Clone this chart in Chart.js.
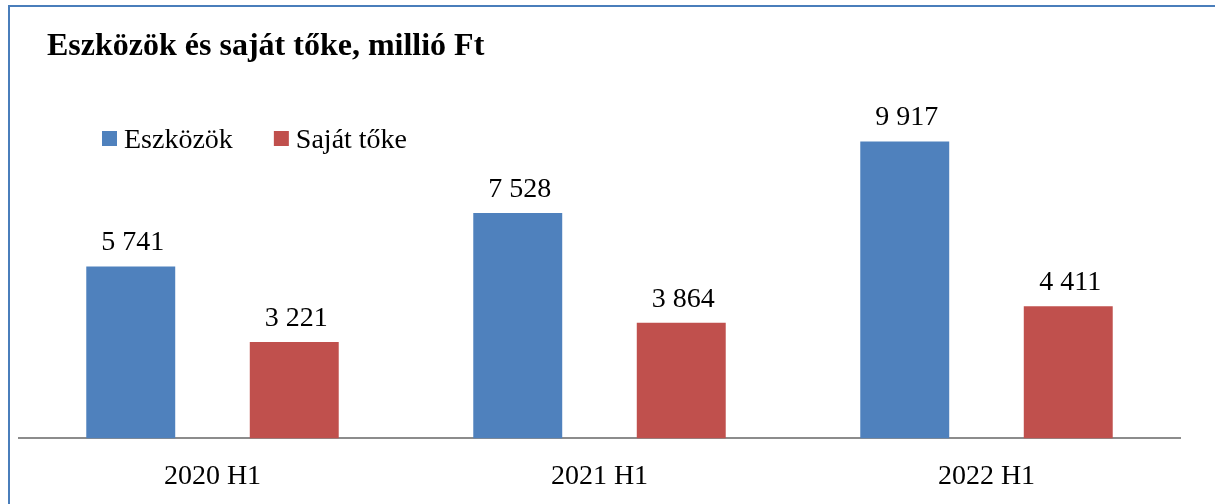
<!DOCTYPE html>
<html lang="hu">
<head>
<meta charset="utf-8">
<title>Eszközök és saját tőke</title>
<script src="https://cdn.jsdelivr.net/npm/chart.js@4/dist/chart.umd.min.js"></script>
<style>
    html, body { margin: 0; padding: 0; background: #fff; }
    #wrap { position: relative; width: 1215px; height: 504px; overflow: hidden; }
    #myChart { position: absolute; left: 0; top: 0; }
    #frame {
        position: absolute; left: 8px; top: 5px; right: -10px; bottom: -10px;
        border-left: 2px solid #4a7ebb; border-top: 2px solid #4a7ebb;
        pointer-events: none;
    }
</style>
</head>
<body>
<div id="wrap">
    <canvas id="myChart" width="1215" height="529"></canvas>
    <div id="frame"></div>
</div>
<script>
const tituloGrafico = "Eszközök és saját tőke, millió Ft";
const periodos = ["2020 H1", "2021 H1", "2022 H1"];
const eszkozok = [5741, 7528, 9917];
const sajatToke = [3221, 3864, 4411];

const serif = "'Liberation Serif', 'Times New Roman', serif";

function formatNum(v) {
    return String(v).replace(/\B(?=(\d{3})+(?!\d))/g, " ");
}

// titulo, leyenda y etiquetas de valores dibujados a mano
const extras = {
    id: "extras",
    afterDatasetsDraw(chart) {
        const { ctx } = chart;
        ctx.save();
        ctx.fillStyle = "#000";

        ctx.font = `bold 32px ${serif}`;
        ctx.textAlign = "left";
        ctx.textBaseline = "alphabetic";
        ctx.fillText(tituloGrafico, 47, 55);

        // leyenda
        ctx.font = `28px ${serif}`;
        let x = 102;
        chart.data.datasets.forEach((ds) => {
            ctx.fillStyle = ds.backgroundColor;
            ctx.fillRect(x, 131, 15, 15);
            ctx.fillStyle = "#000";
            ctx.fillText(ds.label, x + 22, 148);
            x += 22 + ctx.measureText(ds.label).width + 41;
        });

        // valores sobre las barras
        ctx.textAlign = "center";
        chart.data.datasets.forEach((ds, i) => {
            const meta = chart.getDatasetMeta(i);
            meta.data.forEach((bar, j) => {
                ctx.fillText(formatNum(ds.data[j]), bar.x + 2, bar.y - 16);
            });
        });
        ctx.restore();
    }
};

const config = {
    type: "bar",
    data: {
        labels: periodos,
        datasets: [
            {
                label: "Eszközök",
                data: eszkozok,
                backgroundColor: "#4f81bd",
                categoryPercentage: 0.845,
                barPercentage: 0.544,
            },
            {
                label: "Saját tőke",
                data: sajatToke,
                backgroundColor: "#c0504d",
                categoryPercentage: 0.845,
                barPercentage: 0.544,
            },
        ],
    },
    options: {
        responsive: false,
        animation: false,
        layout: { padding: { left: 19, right: 35, top: 79, bottom: 15 } },
        plugins: {
            legend: { display: false },
            title: { display: false },
            tooltip: { enabled: false },
        },
        scales: {
            x: {
                grid: { display: false, drawTicks: false },
                border: { display: true, color: "#8c8c8c", width: 2 },
                ticks: { color: "#000", padding: 21, font: { family: serif, size: 28 } },
            },
            y: {
                display: false,
                min: 0,
                max: 12000,
            },
        },
    },
    plugins: [extras],
};

const myChart = new Chart(document.getElementById("myChart"), config);
</script>
</body>
</html>
